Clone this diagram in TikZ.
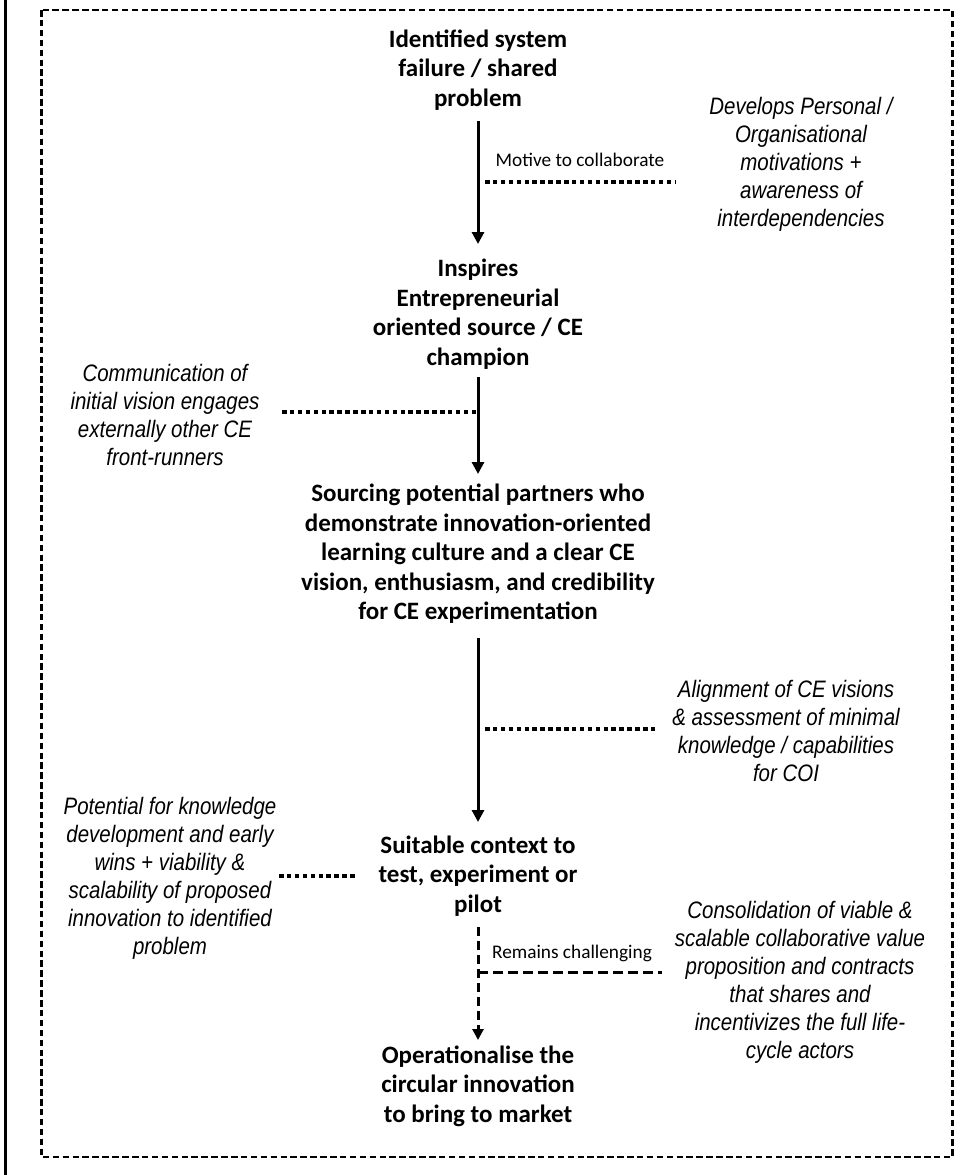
\documentclass[tikz,border=0pt]{standalone}
\usepackage{fontspec}
\setmainfont{Carlito}
\newfontfamily\annfont{Liberation Sans}[FakeStretch=0.86]
\usetikzlibrary{arrows.meta}
\tikzset{
  main/.style={align=center, inner sep=0pt, font=\bfseries\fontsize{25}{29.5}\selectfont},
  ann/.style={align=center, inner sep=0pt, font=\annfont\itshape\fontsize{23.8}{28}\selectfont},
  lbl/.style={inner sep=0pt, font=\fontsize{19.3}{23}\selectfont},
  arr/.style={line width=3pt, -{Triangle[width=12pt,length=12pt]}},
  darr/.style={line width=3pt, dash pattern=on 9pt off 5pt, -{Triangle[width=11pt,length=11pt]}},
  dotline/.style={line width=3.5pt, dash pattern=on 4.5pt off 3.4pt},
  dashline/.style={line width=3pt, dash pattern=on 10pt off 5pt},
  frame/.style={line width=2.3pt, dash pattern=on 6.5pt off 3.4pt}
}
\begin{document}
\begin{tikzpicture}[x=1pt,y=-1pt]
\useasboundingbox (0,0) rectangle (973,1175);
\draw[line width=2.5pt] (5.3,0) -- (5.3,1175);
\draw[frame] (41.5,10) rectangle (952.5,1157);

\node[main] (n1) at (478,70) {Identified system\\failure / shared\\problem};
\node[main] (n2) at (478,314) {Inspires\\Entrepreneurial\\oriented source / CE\\champion};
\node[main] (n3) at (478,554) {Sourcing potential partners who\\demonstrate innovation-oriented\\learning culture and a clear CE\\vision, enthusiasm, and credibility\\for CE experimentation};
\node[main] (n4) at (478,876) {Suitable context to\\test, experiment or\\pilot};
\node[main] (n5) at (478,1086) {Operationalise the\\circular innovation\\to bring to market};

\node[ann] (r1) at (801,164) {Develops Personal /\\Organisational\\motivations +\\awareness of\\interdependencies};
\node[ann] (l2) at (165,415) {Communication of\\initial vision engages\\externally other CE\\front-runners};
\node[ann] (r3) at (786,731) {Alignment of CE visions\\\& assessment of minimal\\knowledge / capabilities\\for COI};
\node[ann] (l4) at (170,878) {Potential for knowledge\\development and early\\wins + viability \&\\scalability of proposed\\innovation to identified\\problem};
\node[ann] (r5) at (800,982) {Consolidation of viable \&\\scalable collaborative value\\proposition and contracts\\that shares and\\incentivizes the full life-\\cycle actors};

\node[lbl] (m1) at (580,160) {Motive to collaborate};
\node[lbl] (m2) at (572,953) {Remains challenging};

\draw[arr] (n1 |- 0,121) -- (n2 |- 0,244);
\draw[arr] (n2 |- 0,377) -- (n3 |- 0,474);
\draw[arr] (n3 |- 0,638) -- (n4 |- 0,822);
\draw[darr] (n4 |- 0,927) -- (n5 |- 0,1040);

\coordinate (d1s) at (485,182);
\coordinate (d1e) at (675,182);
\draw[dotline] (d1s) -- (d1e);
\coordinate (d2s) at (282,412);
\draw[dotline] (d2s) -- (n2 |- 0,412);
\coordinate (d3s) at (485,729);
\coordinate (d3e) at (658,729);
\draw[dotline] (d3s) -- (d3e);
\coordinate (d4s) at (279,876);
\coordinate (d4e) at (357,876);
\draw[dotline] (d4s) -- (d4e);
\coordinate (d5e) at (662,972);
\draw[dashline] (n4 |- 0,972) -- (d5e);
\end{tikzpicture}
\end{document}
